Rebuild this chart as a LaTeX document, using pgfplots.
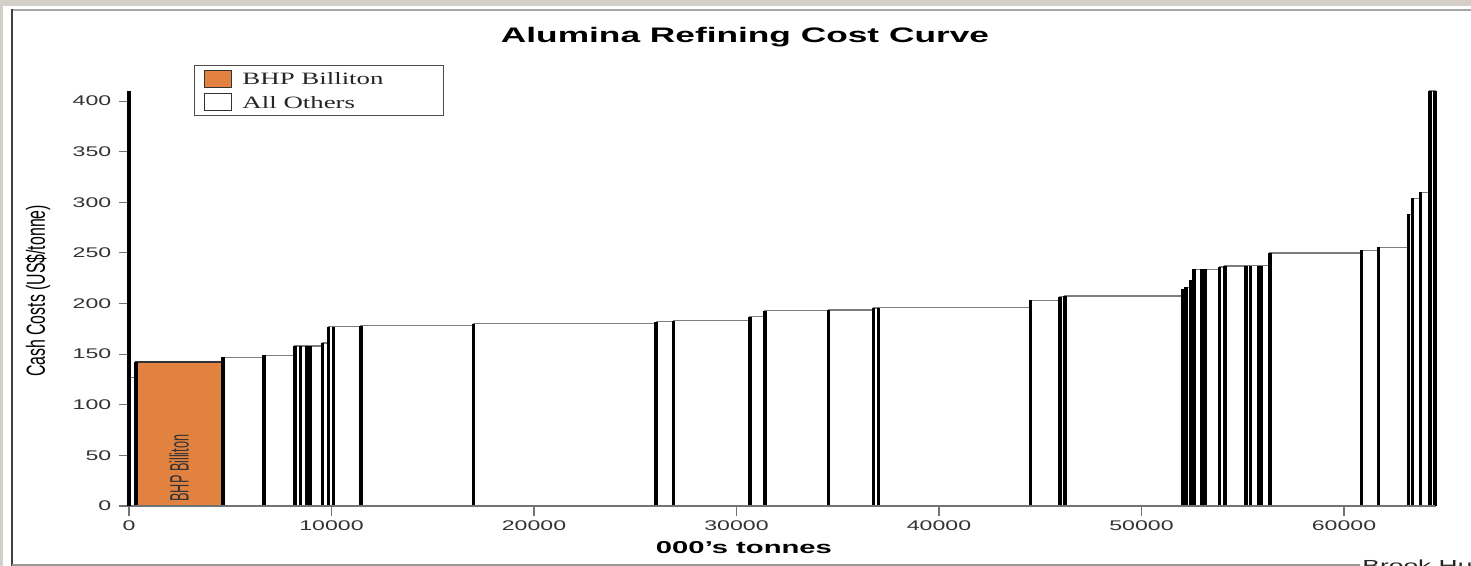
\documentclass[border=0pt]{standalone}
\usepackage{pgfplots}
\pgfplotsset{compat=1.18}
\usepackage{pgfplotstable}
\usepackage{graphicx}
\usepackage{fontspec}
\setmainfont{Liberation Sans}
\newfontfamily\legfont{Liberation Serif}
\definecolor{bhp}{RGB}{225,130,64}
\definecolor{bgray}{RGB}{212,208,200}
\definecolor{edge}{RGB}{125,125,125}

% left edge of each refinery block (000's tonnes) and its cash cost (US$/tonne)
\pgfplotstableread{
x h
0 127
350 142
4650 147
6667 149
8200 158
8480 158
8780 158
8960 158
9560 161
9840 177
10090 177
11450 178
17000 180
26030 182
26880 183
30670 187
31410 193
34540 193.6
36760 195.6
37000 196
44530 203
45975 206.7
46222 207.4
52035 214
52200 216
52430 223
52593 234
52988 234
53150 234
53842 236
54123 237
55160 237.5
55392 237.5
55768 237.5
55936 237.5
56346 250
60874 252.5
61698 255.5
63177 288
63392 304
63787 310
64247 410
64494 410
}\costs

\begin{document}
\begin{tikzpicture}
\useasboundingbox (0,0) rectangle (1103.25pt,424.5pt);
\clip (0,0) rectangle (1103.25pt,424.5pt);
\begin{scope}[x=0.75pt,y=0.75pt]
\fill[bgray] (0,0) rectangle (1471,566);
\fill[white] (3,0) rectangle (1471,560);
\draw[black!35, line width=2pt] (11,556) -- (1471,556);
\draw[black!75, line width=1pt] (12,557) -- (12,0);
\draw[black!40, line width=0.9pt] (12,1) -- (1360,1);
\end{scope}
\begin{axis}[
  at={(96.75pt,45pt)}, anchor=south west,
  scale only axis, width=979.6pt, height=311.3pt,
  xmin=0, xmax=64500, ymin=0, ymax=410,
  clip=false, axis on top,
  axis x line=bottom, axis y line=left,
  x axis line style={-, draw=black!55, line width=0.9pt},
  y axis line style={-, draw=black, line width=2.6pt},
  xtick={0,10000,...,60000}, ytick={0,50,...,400},
  tick align=outside, major tick length=7.5pt,
  tick style={black!55, line width=0.8pt},
  ticklabel style={font=\fontsize{10.5}{12}\selectfont, text=black!80},
  xticklabel style={xscale=1.65},
  yticklabel style={xscale=1.65},
  /pgf/number format/assume math mode=true,
  /pgf/number format/1000 sep={},
  scaled x ticks=false,
  legend image code/.code={\draw[#1, line width=0.9pt] (0pt,-6.4pt) rectangle (20pt,6.4pt);},
  legend cell align=left,
  legend style={at={(0.0498,1.0624)}, anchor=north west, draw=black!70, line width=0.8pt,
    font=\legfont\fontsize{13}{15}\selectfont, text=black!85,
    inner xsep=7pt, inner ysep=3.1pt, row sep=3.8pt,
    nodes={inner sep=0pt, text depth=0pt}},
]
\addplot[ybar interval, fill=white, draw=edge, line width=0.9pt, forget plot] table[x=x, y=h] {\costs};
\addplot[ybar interval, fill=bhp, draw=black!80, line width=1.2pt, forget plot] coordinates {(350,142) (4650,142)};
\addplot[ycomb, draw=black, line width=2.6pt, mark=none, forget plot] table[x=x, y=h] {\costs};
\node[font=\fontsize{9.5}{11}\selectfont, text=black!80, xscale=2.1, rotate=90] at (axis cs:2470,37.5) {BHP Billiton};
\addlegendimage{fill=bhp, draw=black!80}
\addlegendentry{\hspace{8pt}\makebox[144pt][l]{\scalebox{1.55}[1]{BHP Billiton}}}
\addlegendimage{fill=white, draw=black!80}
\addlegendentry{\hspace{8pt}\makebox[144pt][l]{\scalebox{1.55}[1]{All Others}}}
\end{axis}
\begin{scope}[x=0.75pt,y=0.75pt]
\node[font=\bfseries\fontsize{15.75}{18}\selectfont, xscale=1.68] at (745,529) {Alumina Refining Cost Curve};
\node[font=\bfseries\fontsize{12.9}{15}\selectfont, xscale=1.7] at (744,18) {000's tonnes};
\node[font=\fontsize{11.9}{14}\selectfont, xscale=1.65, rotate=90] at (38,275) {Cash Costs (US\$/tonne)};
\node[font=\fontsize{12}{14}\selectfont, text=black!85, xscale=1.65, anchor=base west, inner sep=0pt] at (1362,-5.5) {Brook Hunt};
\end{scope}
\end{tikzpicture}
\end{document}
